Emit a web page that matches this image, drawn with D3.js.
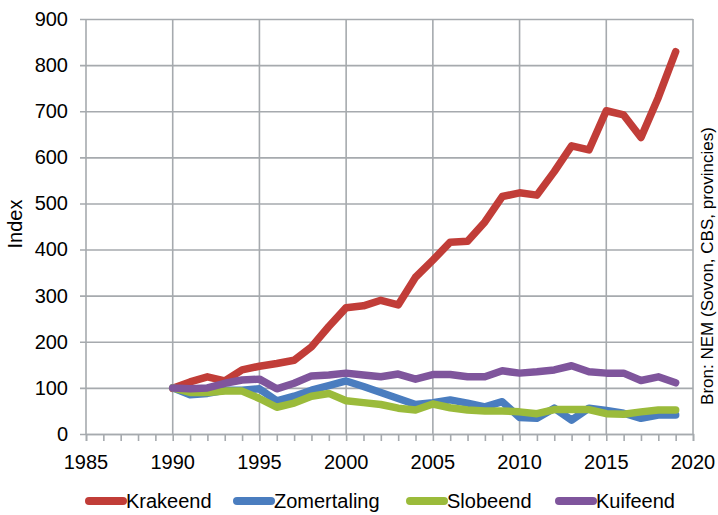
<!DOCTYPE html>
<meta charset="utf-8">
<script src="https://d3js.org/d3.v7.min.js"></script>
<style>
  body { margin: 0; background: #fff; }
  text { font-family: "Liberation Sans", Arial, sans-serif; fill: #000; }
</style>
<svg id="chart" width="718" height="515"></svg>
<script>

// data
const years = d3.range(1990, 2020)
const krakeend    = [99,113,124,115,139,147,153,160,189,233,274,278,290,280,340,377,416,418,460,515,523,518,569,625,616,701,692,643,730,829]
const zomertaling = [100,85,88,95,95,98,72,82,95,105,115,103,90,77,64,68,74,67,59,70,36,34,56,30,56,51,45,34,41,41]
const slobeend    = [100,90,90,93,93,77,58,67,82,88,72,68,64,56,52,65,57,52,50,50,48,44,53,53,53,44,43,48,52,52]
const kuifeend    = [100,98,100,110,117,119,98,110,126,128,132,128,124,130,119,129,129,124,124,137,132,135,139,148,135,132,132,116,124,111]
const seriesNames = ["Krakeend", "Zomertaling", "Slobeend", "Kuifeend"]
const xTicks = [1985, 1990, 1995, 2000, 2005, 2010, 2015, 2020]
const yTicks = [0, 100, 200, 300, 400, 500, 600, 700, 800, 900]

const colors = ["#c13d38", "#4a7dbf", "#9bbb3b", "#7f559c"]
const series = [krakeend, zomertaling, slobeend, kuifeend]

const svg = d3.select("#chart")
const gridColor = "#a6aaae"

const x = d3.scaleLinear().domain([1985, 2020]).range([86, 693])
const y = d3.scaleLinear().domain([0, 900]).range([434, 19])

// horizontal gridlines + y labels
const yAxis = svg.append("g")
    .attr("transform", "translate(693,0)")
    .call(d3.axisLeft(y).tickValues(yTicks).tickSize(613).tickPadding(12).tickFormat(d3.format("d")))
yAxis.select(".domain").remove()
yAxis.selectAll("line").attr("stroke", gridColor).attr("stroke-width", 1.6)
yAxis.selectAll("text").style("font-size", "20px")

// vertical gridlines every 5 years
svg.append("g")
  .selectAll("line")
  .data(xTicks.slice(1))
  .join("line")
    .attr("x1", d => x(d)).attr("x2", d => x(d))
    .attr("y1", y(900)).attr("y2", y(0))
    .attr("stroke", gridColor)
    .attr("stroke-width", 1.6)

// x axis with yearly ticks
const xAxis = svg.append("g")
    .attr("transform", `translate(0,${y(0)})`)
    .call(d3.axisBottom(x).tickValues(d3.range(1985, 2021)).tickSize(7).tickFormat(""))
xAxis.selectAll("line").attr("stroke", gridColor).attr("stroke-width", 1.6)
xAxis.select(".domain").attr("stroke", gridColor).attr("stroke-width", 1.6)

// y axis line
svg.append("line")
    .attr("x1", x(1985)).attr("x2", x(1985))
    .attr("y1", y(900)).attr("y2", y(0))
    .attr("stroke", gridColor)
    .attr("stroke-width", 1.6)

// x labels
svg.append("g")
  .selectAll("text")
  .data(xTicks)
  .join("text")
    .attr("x", d => x(d))
    .attr("y", 469)
    .attr("text-anchor", "middle")
    .style("font-size", "20px")
    .text(d => d)

// lines
const line = d3.line()
    .x((d, i) => x(years[i]))
    .y(d => y(d))

svg.append("g")
  .selectAll("path")
  .data(series)
  .join("path")
    .attr("d", d => line(d))
    .attr("fill", "none")
    .attr("stroke", (d, i) => colors[i])
    .attr("stroke-width", 7.5)
    .attr("stroke-linejoin", "round")
    .attr("stroke-linecap", "round")

// axis titles
svg.append("text")
    .attr("transform", "translate(22,224) rotate(-90)")
    .attr("text-anchor", "middle")
    .style("font-size", "20px")
    .text("Index")

svg.append("text")
    .attr("transform", "translate(713,266) rotate(-90)")
    .attr("text-anchor", "middle")
    .style("font-size", "17px")
    .text("Bron: NEM (Sovon, CBS, provincies)")

// legend
const legendX = [86, 234, 407, 556]
const legend = svg.append("g")
  .selectAll("g")
  .data(seriesNames)
  .join("g")
    .attr("transform", (d, i) => `translate(${legendX[i]},501)`)

legend.append("line")
    .attr("x1", 3).attr("x2", 37)
    .attr("stroke", (d, i) => colors[i])
    .attr("stroke-width", 8)
    .attr("stroke-linecap", "round")

legend.append("text")
    .attr("x", 40)
    .attr("y", 7)
    .style("font-size", "20px")
    .text(d => d)

</script>
